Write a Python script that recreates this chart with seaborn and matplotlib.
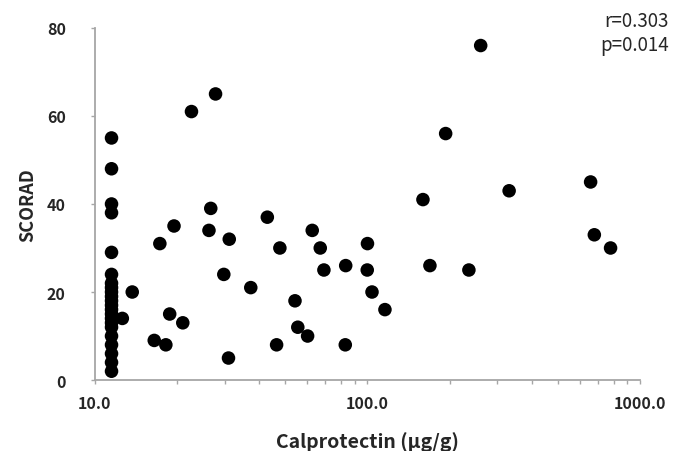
import numpy as np
import pandas as pd
import matplotlib
matplotlib.use("Agg")
import matplotlib.pyplot as plt
import matplotlib.ticker as mticker
import seaborn as sns

sns.set_style("ticks")
plt.rcParams["font.family"] = ["Noto Sans CJK KR", "DejaVu Sans"]

# values
calprotectin = [
    11.5, 11.5, 11.5, 11.5, 11.5, 11.5, 11.5, 11.5, 11.5, 11.5, 11.5,
    11.5, 11.5, 11.5, 11.5, 11.5, 11.5, 11.5, 11.5, 11.5, 11.5, 11.5,
    12.6, 13.7, 16.5, 17.3, 18.2, 18.8, 19.5, 21.0, 22.6, 26.2, 26.6,
    27.7, 29.7, 30.9, 31.1, 37.3, 42.9, 46.4, 47.7, 54.2, 55.5, 60.3,
    62.7, 67.1, 69.2, 82.9, 83.2, 99.8, 100.0, 103.9, 115.9, 159.8,
    169.5, 193.6, 235.6, 260.3, 331.0, 659.0, 680.0, 780.0,
]
scorad = [
    55, 48, 40, 38, 29, 24, 22, 21, 20, 19, 18,
    17, 16, 15, 14, 13, 12, 10, 8, 6, 4, 2,
    14, 20, 9, 31, 8, 15, 35, 13, 61, 34, 39,
    65, 24, 5, 32, 21, 37, 8, 30, 18, 12, 10,
    34, 30, 25, 8, 26, 25, 31, 20, 16, 41,
    26, 56, 25, 76, 43, 45, 33, 30,
]
x_ticks = [10, 100, 1000]
y_ticks = [0, 20, 40, 60, 80]
stats_text = "r=0.303\np=0.014"

df = pd.DataFrame({"Calprotectin": calprotectin, "SCORAD": scorad})

fig = plt.figure(figsize=(6.77, 4.52), dpi=100)
ax = fig.add_axes([0.1403, 0.157, 0.805, 0.779])

sns.scatterplot(data=df, x="Calprotectin", y="SCORAD", color="black",
                s=95, edgecolor="none", ax=ax, legend=False)

ax.set_xscale("log")
ax.set_xlim(10, 1000)
ax.set_ylim(0, 80)
ax.set_xticks(x_ticks)
ax.xaxis.set_major_formatter(mticker.FuncFormatter(lambda v, p: f"{v:.1f}"))
ax.xaxis.set_minor_locator(mticker.LogLocator(base=10, subs=np.arange(2, 10)))
ax.xaxis.set_minor_formatter(mticker.NullFormatter())
ax.set_yticks(y_ticks)

for side in ["top", "right"]:
    ax.spines[side].set_visible(False)
for side in ["left", "bottom"]:
    ax.spines[side].set_color("#a6a6a6")
    ax.spines[side].set_linewidth(1.3)

ax.tick_params(which="both", direction="out", length=3, width=1,
               color="#a6a6a6", labelsize=11.5)
ax.tick_params(axis="x", which="both", pad=8)
ax.tick_params(axis="y", which="both", pad=18)
for lbl in ax.get_xticklabels() + ax.get_yticklabels():
    lbl.set_fontweight("bold")
    lbl.set_color("#262626")

ax.set_xlabel("Calprotectin (µg/g)", fontsize=14, fontweight="bold",
              color="#262626", labelpad=14)
ax.set_ylabel("SCORAD", fontsize=13, fontweight="bold",
              color="#262626", labelpad=6.5)

fig.text(0.988, 0.975, stats_text, ha="right", va="top", fontsize=13.5,
         color="#262626", linespacing=1.2)

fig.savefig("out.png", dpi=100)
